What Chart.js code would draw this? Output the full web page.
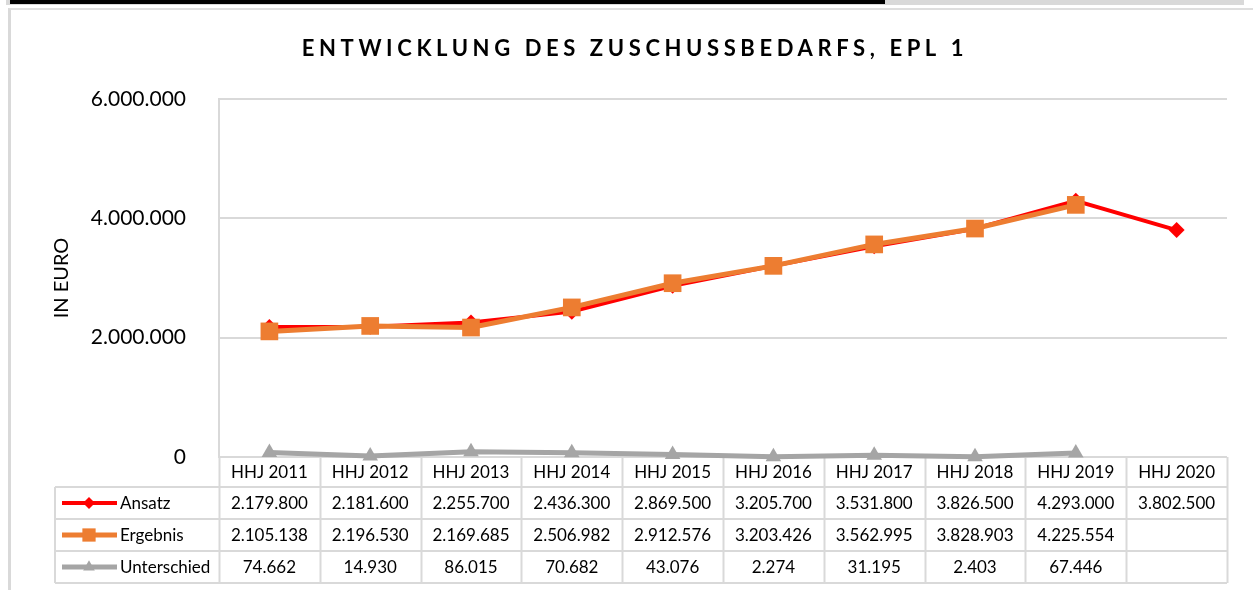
<!DOCTYPE html>
<html>
<head>
<meta charset="utf-8">
<script src="https://cdn.jsdelivr.net/npm/chart.js@4/dist/chart.umd.min.js"></script>
<style>
  html, body { margin: 0; padding: 0; background: #fff; }
  #wrap { position: relative; width: 1253px; height: 590px; overflow: hidden; }
  #band { position: absolute; left: 6px; top: 0; width: 1238px; height: 5px; background: #d9d9d9; }
  #bar { position: absolute; left: 10px; top: 0; width: 875px; height: 4px; background: #000; }
  #frame { position: absolute; left: 8px; top: 8px; right: 0; bottom: 0; border-top: 2px solid #dedede; border-left: 3px solid #d9d9d9; }
  #chart { position: absolute; left: 0; top: 0; }
</style>
</head>
<body>
<div id="wrap">
  <div id="band"></div>
  <div id="bar"></div>
  <div id="frame"></div>
  <canvas id="chart" width="1253" height="590"></canvas>
</div>
<script>
// Daten
const jahre = ['HHJ 2011', 'HHJ 2012', 'HHJ 2013', 'HHJ 2014', 'HHJ 2015', 'HHJ 2016', 'HHJ 2017', 'HHJ 2018', 'HHJ 2019', 'HHJ 2020'];
const ansatz = [2179800, 2181600, 2255700, 2436300, 2869500, 3205700, 3531800, 3826500, 4293000, 3802500];
const ergebnis = [2105138, 2196530, 2169685, 2506982, 2912576, 3203426, 3562995, 3828903, 4225554, null];
const unterschied = [74662, 14930, 86015, 70682, 43076, 2274, 31195, 2403, 67446, null];
const yTicks = [0, 2000000, 4000000, 6000000];

const titel = 'ENTWICKLUNG DES ZUSCHUSSBEDARFS, EPL 1';
const schrift = 'Lato, Carlito, "Noto Sans", sans-serif';
const linienFarbe = '#d9d9d9';

// Zahlen mit Punkt als Tausendertrennzeichen
const fmt = (v) => v === null ? '' : String(v).replace(/\B(?=(\d{3})+(?!\d))/g, '.');

const reihen = [
    { name: 'Ansatz', data: ansatz, farbe: '#ff0000', stil: 'rectRot', radius: 8, breite: 4 },
    { name: 'Ergebnis', data: ergebnis, farbe: '#ed7d31', stil: 'rect', radius: 12.5, breite: 5 },
    { name: 'Unterschied', data: unterschied, farbe: '#a5a5a5', stil: 'triangle', radius: 9, breite: 5 }
];

// Titel und Datentabelle unter dem Diagramm
const tabellePlugin = {
    id: 'tabelle',
    beforeDatasetsDraw(chart) {
        const ctx = chart.ctx;
        const area = chart.chartArea;
        const x = chart.scales.x;
        const schritt = (area.right - area.left) / jahre.length;
        const oben = area.bottom;
        const zeilen = [oben, oben + 30, oben + 62, oben + 94, oben + 126];
        const legLinks = 55;

        ctx.save();
        ctx.strokeStyle = linienFarbe;
        ctx.lineWidth = 2;
        ctx.beginPath();
        // senkrechte Linien
        for (let i = 0; i <= jahre.length; i++) {
            const px = Math.round(area.left + i * schritt) + 0.5;
            ctx.moveTo(px, zeilen[0]);
            ctx.lineTo(px, zeilen[4]);
        }
        ctx.moveTo(legLinks, zeilen[1]);
        ctx.lineTo(legLinks, zeilen[4]);
        // waagerechte Linien
        for (let r = 1; r < zeilen.length; r++) {
            ctx.moveTo(legLinks, zeilen[r]);
            ctx.lineTo(area.right, zeilen[r]);
        }
        ctx.stroke();

        ctx.fillStyle = '#000';
        ctx.font = '17px ' + schrift;
        ctx.textAlign = 'center';
        ctx.textBaseline = 'middle';
        jahre.forEach((j, i) => {
            const cx = x.getPixelForValue(i);
            ctx.fillText(j, cx, (zeilen[0] + zeilen[1]) / 2 + 1);
            reihen.forEach((s, r) => {
                ctx.fillText(fmt(s.data[i]), cx, (zeilen[r + 1] + zeilen[r + 2]) / 2 + 1);
            });
        });

        // Legendeneinträge
        reihen.forEach((s, r) => {
            const cy = (zeilen[r + 1] + zeilen[r + 2]) / 2;
            ctx.strokeStyle = s.farbe;
            ctx.lineWidth = s.breite;
            ctx.beginPath();
            ctx.moveTo(62, cy);
            ctx.lineTo(117, cy);
            ctx.stroke();
            ctx.fillStyle = s.farbe;
            Chart.helpers.drawPoint(ctx, { pointStyle: s.stil, radius: s.radius * 0.75, rotation: 0, borderWidth: 0 }, 89, cy);
            ctx.fillStyle = '#000';
            ctx.textAlign = 'left';
            ctx.fillText(s.name, 120, cy + 1);
        });

        // Titel
        ctx.fillStyle = '#000';
        ctx.font = 'bold 22px ' + schrift;
        ctx.textAlign = 'center';
        ctx.letterSpacing = '4.6px';
        ctx.fillText(titel, 635, 49);
        ctx.restore();
    }
};

const ctx = document.getElementById('chart').getContext('2d');
new Chart(ctx, {
    type: 'line',
    data: {
        labels: jahre,
        datasets: reihen.map((s, i) => ({
            label: s.name,
            data: s.data,
            borderColor: s.farbe,
            backgroundColor: s.farbe,
            borderWidth: s.breite,
            pointStyle: s.stil,
            pointRadius: s.radius,
            pointHoverRadius: s.radius,
            pointBorderWidth: 0,
            tension: 0,
            clip: false,
            order: [1, 0, 2][i]
        }))
    },
    options: {
        responsive: false,
        animation: false,
        layout: { padding: { left: 0, top: 99, right: 26, bottom: 133 } },
        plugins: {
            legend: { display: false },
            tooltip: { enabled: false }
        },
        scales: {
            x: {
                display: false,
                offset: true
            },
            y: {
                min: 0,
                max: 6000000,
                afterFit: (scale) => { scale.width = 219; },
                afterBuildTicks: (scale) => { scale.ticks = yTicks.map(v => ({ value: v })); },
                border: { display: true, color: linienFarbe, width: 2 },
                grid: { color: linienFarbe, lineWidth: 2, drawTicks: false },
                ticks: {
                    padding: 33,
                    color: '#000',
                    font: { family: schrift, size: 21 },
                    callback: (v) => fmt(v)
                },
                title: {
                    display: true,
                    text: 'IN EURO',
                    color: '#000',
                    font: { family: schrift, size: 20 },
                    padding: { top: 50, bottom: 0 }
                }
            }
        }
    },
    plugins: [tabellePlugin]
});
</script>
</body>
</html>
